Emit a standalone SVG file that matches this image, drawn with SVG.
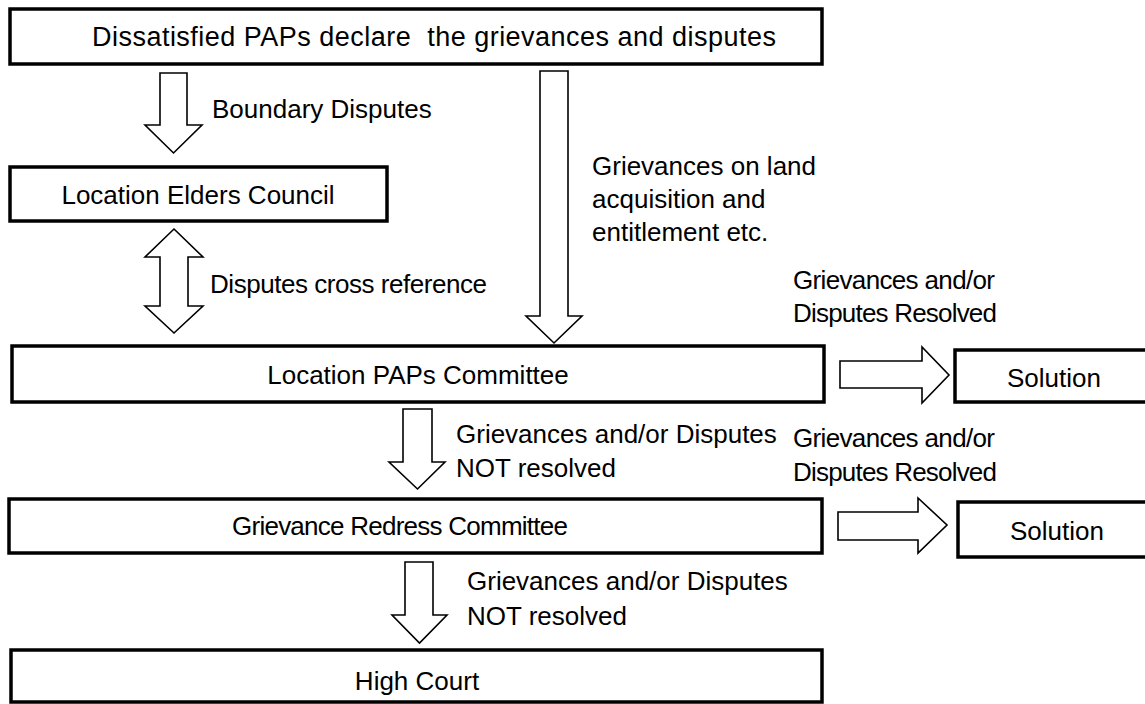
<svg xmlns="http://www.w3.org/2000/svg" width="1145" height="704" viewBox="0 0 1145 704">
<style>
.box{fill:#fff;stroke:#000;stroke-width:3.5}
.arr{fill:#fff;stroke:#000;stroke-width:1.6;stroke-linejoin:miter}
text{font-family:"Liberation Sans",Arial,sans-serif;font-size:26px;fill:#000}
.c{text-anchor:middle}
</style>
<rect width="1145" height="704" fill="#fff"/>
<g id="connectors">
<polygon class="arr" points="160,73 187,73 187,125 202,125 173.5,153 145,125 160,125"/>
<polygon class="arr" points="174,229 203,257 188,257 188,306 203,306 174,333 145,306 160,306 160,257 145,257"/>
<polygon class="arr" points="540,71 568,71 568,316 582,316 554,343 526,316 540,316"/>
<polygon class="arr" points="403,409 432,409 432,462 445,462 417.5,489 389,462 403,462"/>
<polygon class="arr" points="405,562 433,562 433,615 447,615 419.5,643 392,615 405,615"/>
<polygon class="arr" points="840,361 922,361 922,347 949,375 922,403 922,388 840,388"/>
<polygon class="arr" points="838,512 918,512 918,498 947,525 918,553 918,540 838,540"/>
<text x="212" y="118">Boundary Disputes</text>
<text x="210" y="293" textLength="277">Disputes cross reference</text>
<text x="592" y="175">Grievances on land</text>
<text x="592" y="208">acquisition and</text>
<text x="592" y="241">entitlement etc.</text>
<text x="793" y="289" textLength="202">Grievances and/or</text>
<text x="793" y="322" textLength="204">Disputes Resolved</text>
<text x="456" y="443">Grievances and/or Disputes</text>
<text x="456" y="477">NOT resolved</text>
<text x="793" y="447" textLength="202">Grievances and/or</text>
<text x="793" y="481" textLength="204">Disputes Resolved</text>
<text x="467" y="590">Grievances and/or Disputes</text>
<text x="467" y="625">NOT resolved</text>
</g>
<g id="n1"><rect class="box" x="10" y="9" width="812" height="55"/><text x="92" y="46" xml:space="preserve" style="font-size:27px" textLength="684">Dissatisfied PAPs declare  the grievances and disputes</text></g>
<g id="n2"><rect class="box" x="10" y="167" width="377" height="54"/><text class="c" x="198" y="204">Location Elders Council</text></g>
<g id="n3"><rect class="box" x="12" y="346" width="812" height="56"/><text class="c" x="418" y="384">Location PAPs Committee</text></g>
<g id="n4"><rect class="box" x="955" y="350" width="200" height="52"/><text class="c" x="1054" y="387">Solution</text></g>
<g id="n5"><rect class="box" x="9" y="499" width="813" height="54"/><text class="c" x="400" y="535" textLength="336">Grievance Redress Committee</text></g>
<g id="n6"><rect class="box" x="958" y="502" width="200" height="55"/><text class="c" x="1057" y="540">Solution</text></g>
<g id="n7"><rect class="box" x="11" y="650" width="811" height="52"/><text class="c" x="417" y="690">High Court</text></g>
</svg>
